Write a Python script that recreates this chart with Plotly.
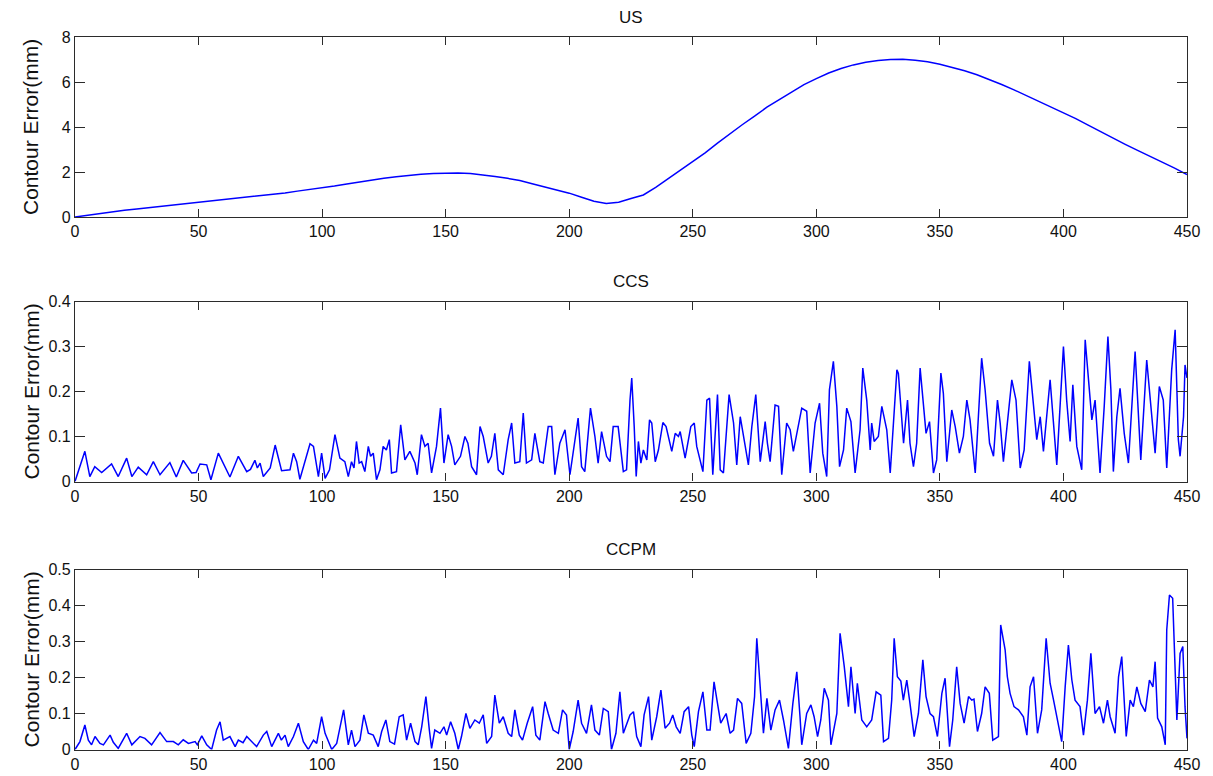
import plotly.graph_objects as go
from plotly.subplots import make_subplots

# ---- US: contour error of the uncoupled system ----
us_x = list(range(0, 451, 5))
us_y = [0.00, 0.08, 0.15, 0.23, 0.30, 0.36, 0.42, 0.48, 0.53, 0.58,
        0.63, 0.70, 0.76, 0.82, 0.88, 0.94, 1.00, 1.07, 1.15, 1.22,
        1.30, 1.38, 1.47, 1.56, 1.64, 1.72, 1.79, 1.85, 1.90, 1.93,
        1.95, 1.95, 1.93, 1.88, 1.80, 1.72, 1.62, 1.48, 1.34, 1.20,
        1.06, 0.88, 0.70, 0.60, 0.66, 0.82, 0.98, 1.32, 1.70, 2.12,
        2.47, 2.85, 3.28, 3.70, 4.10, 4.48, 4.88, 5.22, 5.55, 5.88,
        6.15, 6.40, 6.60, 6.76, 6.88, 6.96, 7.00, 7.01, 6.97, 6.90,
        6.79, 6.66, 6.50, 6.32, 6.12, 5.89, 5.65, 5.40, 5.15, 4.90,
        4.65, 4.37, 4.08, 3.79, 3.50, 3.23, 2.96, 2.70, 2.45, 2.17, 1.89]

# ---- CCS: cross-coupled control ----
ccs_x = [0, 4, 6, 8, 10.8, 14.8, 17.5, 20.9, 23, 25.6, 29, 31.7, 34.4, 38.4, 41, 43.8, 47.2, 49, 50.6, 53.3,
         55, 58, 62.7, 66.1, 69.5, 71, 72.8, 73.8, 74.9, 76.2, 79, 81, 83.6, 87, 88.4, 89.7, 91, 95.1, 96.5, 98.5,
         99.8, 101.2, 103, 105.2, 107.2, 109.2, 110.6, 111.9, 112.9, 113.9, 115, 116, 117.3, 118.7, 119.6, 120.7,
         122, 123.4, 124.7, 126, 127.2, 128.1, 130.1, 131.8, 133.5, 135.5, 137.6, 138.5, 140.2, 141.6, 142.9,
         144.3, 146.3, 147.9, 149.3, 151, 152.4, 153.7, 156, 157.8, 159, 160.5, 162.5, 163.9, 165.2, 167.2,
         168.5, 169.9, 171.3, 173.3, 175.3, 176.7, 178, 180, 181.4, 182.7, 184.8, 186.1, 187, 188.1, 189.5,
         191.5, 192.9, 194.2, 196.2, 198.3, 200.3, 201.6, 203.6, 205, 206.3, 208.6, 210.4, 211.7, 213.1, 215.1,
         216.5, 217.8, 219.8, 221.9, 223.2, 224.6, 225.3, 226.3, 227.1, 228, 229, 230, 231.4, 232.5, 233.4,
         234.8, 236.1, 237.9, 239.2, 241.5, 242.9, 244.2, 244.9, 246.9, 249.2, 250.6, 251.6, 254.1, 255.7,
         256.8, 258.1, 260, 261.1, 262.4, 264.7, 266.5, 267.8, 269.2, 271.2, 272.5, 273.9, 275.5, 277.3,
         279.3, 280.2, 281.3, 283.3, 284.7, 286, 288, 289.4, 290.7, 294.1, 296.1, 297.5, 299.5, 301.3, 302.6,
         304.2, 305.3, 306.9, 308.3, 309.4, 311, 312.3, 314, 315.7, 317.7, 318.8, 320.4, 321.8, 322.4, 323.4,
         325.1, 326.5, 328.5, 329.9, 332.6, 333.2, 334.2, 335.3, 336.9, 337.9, 339.3, 340.6, 342, 343.3,
         344.4, 345.8, 347.4, 348.7, 350.4, 351.4, 352.8, 354.8, 356.2, 357.9, 359.5, 360.9, 362.2, 364.3,
         366.9, 368.3, 370.1, 371.7, 373.3, 374.4, 375.7, 379.1, 380.8, 382.5, 384.1, 386.2, 387.6, 389.2,
         390.6, 391.9, 394.6, 396, 397.3, 400, 401.3, 402.7, 403.8, 405.4, 407.4, 408.8, 410.1, 411.5, 412.8,
         414.8, 416.5, 418, 419.2, 420.2, 421.6, 422.9, 424.6, 426.3, 429, 430.4, 431.3, 433.7, 435.1, 437.1,
         438.8, 440.4, 441.8, 443.8, 445.2, 446.5, 447.2, 448.6, 449.2, 450]
ccs_y = [0, 0.067, 0.011, 0.033, 0.02, 0.039, 0.011, 0.052, 0.011, 0.032, 0.015, 0.044, 0.015, 0.042, 0.01, 0.047, 0.019, 0.02, 0.039, 0.037,
         0.004, 0.063, 0.01, 0.056, 0.022, 0.027, 0.047, 0.03, 0.041, 0.011, 0.03, 0.081, 0.024, 0.026, 0.063, 0.044, 0.005, 0.084, 0.078, 0.011,
         0.063, 0.007, 0.026, 0.104, 0.052, 0.044, 0.011, 0.044, 0.03, 0.089, 0.041, 0.044, 0.022, 0.078, 0.056, 0.063,
         0.004, 0.026, 0.078, 0.07, 0.093, 0.019, 0.022, 0.126, 0.048, 0.067, 0.041, 0.015, 0.104, 0.078, 0.085,
         0.019, 0.078, 0.163, 0.041, 0.104, 0.078, 0.037, 0.056, 0.1, 0.085, 0.033, 0.015, 0.122, 0.1, 0.041,
         0.056, 0.107, 0.026, 0.015, 0.093, 0.13, 0.041, 0.044, 0.152, 0.041, 0.048, 0.107, 0.078, 0.044, 0.041,
         0.122, 0.122, 0.015, 0.085, 0.115, 0.015, 0.067, 0.141, 0.033, 0.022, 0.163, 0.1, 0.041, 0.111, 0.056,
         0.044, 0.122, 0.122, 0.022, 0.026, 0.181, 0.23, 0.122, 0.011, 0.089, 0.041, 0.07, 0.048, 0.137, 0.13,
         0.044, 0.07, 0.131, 0.122, 0.067, 0.107, 0.1, 0.111, 0.052, 0.122, 0.13, 0.078, 0.022, 0.181,
         0.185, 0.015, 0.193, 0.026, 0.019, 0.193, 0.13, 0.037, 0.144, 0.078, 0.037, 0.122, 0.193, 0.044,
         0.133, 0.085, 0.044, 0.17, 0.167, 0.015, 0.13, 0.115, 0.067, 0.163, 0.156, 0.019, 0.13, 0.174, 0.063,
         0.011, 0.204, 0.267, 0.167, 0.033, 0.07, 0.163, 0.133, 0.019, 0.115, 0.252, 0.181, 0.07, 0.13, 0.089,
         0.1, 0.167, 0.115, 0.019, 0.248, 0.24, 0.16, 0.085, 0.181, 0.085, 0.033, 0.085, 0.252, 0.174,
         0.107, 0.133, 0.019, 0.048, 0.241, 0.196, 0.044, 0.159, 0.122, 0.063, 0.1, 0.181, 0.137, 0.019,
         0.274, 0.204, 0.085, 0.056, 0.181, 0.13, 0.044, 0.226, 0.181, 0.03, 0.07, 0.267, 0.189, 0.093,
         0.144, 0.067, 0.226, 0.13, 0.037, 0.3, 0.181, 0.089, 0.215, 0.078, 0.026, 0.315, 0.219, 0.137, 0.181,
         0.019, 0.167, 0.322, 0.204, 0.022, 0.144, 0.207, 0.107, 0.041, 0.289, 0.152, 0.048, 0.27, 0.181, 0.063,
         0.211, 0.181, 0.03, 0.248, 0.337, 0.093, 0.056, 0.144, 0.259, 0.23]

# ---- CCPM: cross-coupled pre-compensation ----
ccpm_x = [0, 2, 4, 5.4, 6.7, 8.1, 10.1, 11.5, 14.2, 15.5, 17.5, 20.9, 23, 26.3, 28.3, 31, 34.4, 37.1, 39.8, 41.8,
          43.8, 45.9, 48.6, 49.5, 51.3, 53.3, 55.3, 57.3, 58.7, 60, 62.7, 64.8, 66.1, 68, 69.5, 71.5, 73.5, 76.2,
          77.6, 79.6, 82.3, 83.5, 85, 86.3, 88.4, 90.4, 92.4, 94.4, 96.5, 97.8, 99.8, 101.2, 102.5, 103.9, 105.9,
          108.7, 110.6, 111.9, 113.3, 115.3, 116.9, 118.7, 120.7, 122.7, 124.1, 125.8, 127.4, 129.3, 131.2,
          132.8, 134.2, 135.8, 137.6, 138.9, 140.3, 142, 143.4, 144.3, 145.6, 147.7, 149.3, 150.4, 152, 153.7,
          155.1, 156.4, 158.2, 159.8, 161.8, 163.6, 165.2, 166.6, 168.6, 169.9, 171.7, 173.3, 175.3, 176.7, 178,
          179.8, 181.1, 183, 185.2, 186.5, 188.1, 190.2, 191.5, 193.5, 195.6, 197.3, 198.9, 200, 201.6, 203.6,
          205, 207, 209, 210.4, 212.2, 213.8, 215.8, 217.1, 218.9, 220.5, 221.9, 223.3, 224.6, 226, 227.3, 229,
          230.3, 232.1, 233.4, 235.4, 237.1, 238.8, 240.6, 241.9, 243.3, 244.9, 246.5, 248.3, 249.6, 250.6,
          252.3, 254.1, 255.7, 257, 258.6, 260, 261.3, 263.5, 265.1, 266.5, 268.1, 269.8, 271.6, 273.5, 275,
          275.9, 277.3, 278.6, 280, 281.6, 283.3, 285.1, 286.7, 288.7, 290.5, 292.1, 293.4, 294.1, 296.1, 297.8,
          299.1, 300.5, 301.8, 303.2, 304.9, 305.9, 308.3, 309.6, 311.3, 313, 314, 315.7, 316.6, 318.4, 320.4,
          322.4, 324.2, 326.1, 327.2, 329.2, 330.5, 331.5, 332.8, 334.2, 335.2, 336.6, 337.9, 339.6, 341.3,
          343.1, 344.4, 346, 347.4, 349, 350.8, 352.1, 353.9, 355.2, 356.8, 358.2, 359.8, 361.6, 362.9, 363.8,
          365.2, 366.9, 368.3, 370, 371.4, 373.7, 374.6, 376.4, 377.3, 378.4, 380, 381.8, 383.8, 385.2, 386.5,
          387.9, 389.5, 391.2, 393, 394.6, 396, 397.3, 399.3, 400.7, 402, 403.4, 404.7, 406.7, 408.1, 409.7,
          411.1, 412.8, 414.6, 416.2, 417.8, 418.9, 420.9, 422.3, 423.6, 425.4, 427, 428.3, 429.7, 431.3, 433.1,
          434.8, 436.2, 437.1, 438.1, 439.8, 441.2, 441.8, 442.9, 444.2, 445.2, 445.9, 447.2, 448.3, 449.2, 450]
ccpm_y = [0, 0.022, 0.068, 0.026, 0.013, 0.036, 0.017, 0.013, 0.04, 0.02, 0.003, 0.045, 0.013, 0.036, 0.031, 0.013, 0.047, 0.022, 0.022, 0.013,
          0.027, 0.017, 0.022, 0.013, 0.038, 0.013, 0.0, 0.054, 0.077, 0.026, 0.036, 0.008, 0.026, 0.019, 0.036, 0.022, 0.008, 0.04,
          0.05, 0.008, 0.045, 0.026, 0.04, 0.008, 0.036, 0.073, 0.022, 0.0, 0.026, 0.017, 0.091, 0.045, 0.022, 0.0, 0.017,
          0.11, 0.013, 0.054, 0.008, 0.026, 0.096, 0.045, 0.04, 0.008, 0.05, 0.082, 0.022, 0.015, 0.091,
          0.096, 0.026, 0.073, 0.022, 0.013, 0.063, 0.147, 0.054, 0.003, 0.054, 0.045, 0.063, 0.04, 0.077, 0.045,
          0.0, 0.036, 0.1, 0.059, 0.082, 0.073, 0.096, 0.017, 0.036, 0.151, 0.073, 0.091, 0.045, 0.036, 0.11,
          0.04, 0.026, 0.073, 0.119, 0.04, 0.026, 0.133, 0.1, 0.054, 0.045, 0.11, 0.096, 0.0, 0.05, 0.137,
          0.073, 0.045, 0.124, 0.054, 0.04, 0.114, 0.105, 0.0, 0.045, 0.16, 0.045, 0.073, 0.096, 0.105, 0.036, 0.008,
          0.096, 0.147, 0.026, 0.091, 0.165, 0.059, 0.073, 0.096, 0.063, 0.045, 0.105, 0.119, 0.04, 0.008,
          0.105, 0.16, 0.054, 0.054, 0.188, 0.128, 0.073, 0.1, 0.045, 0.054, 0.142, 0.128, 0.017, 0.045, 0.147,
          0.309, 0.156, 0.045, 0.142, 0.054, 0.11, 0.137, 0.082, 0.003, 0.128, 0.216, 0.091, 0.013, 0.1, 0.124,
          0.091, 0.036, 0.082, 0.17, 0.137, 0.013, 0.1, 0.323, 0.23, 0.119, 0.23, 0.1, 0.184, 0.082, 0.063,
          0.082, 0.16, 0.151, 0.022, 0.031, 0.137, 0.309, 0.202, 0.19, 0.137, 0.193, 0.128, 0.036, 0.1,
          0.249, 0.147, 0.1, 0.091, 0.036, 0.156, 0.198, 0.008, 0.082, 0.23, 0.128, 0.073, 0.147, 0.137, 0.14,
          0.05, 0.1, 0.174, 0.156, 0.026, 0.036, 0.346, 0.277, 0.202, 0.156, 0.119, 0.11, 0.091, 0.04, 0.174,
          0.202, 0.045, 0.11, 0.309, 0.184, 0.137, 0.091, 0.022, 0.174, 0.29, 0.193, 0.137, 0.119, 0.04, 0.137,
          0.267, 0.1, 0.119, 0.073, 0.137, 0.091, 0.045, 0.202, 0.258, 0.036, 0.137, 0.119, 0.174, 0.128, 0.105,
          0.193, 0.174, 0.244, 0.087, 0.063, 0.013, 0.332, 0.429, 0.42, 0.179, 0.082, 0.267, 0.286, 0.119, 0.031]

panel_titles = ["US", "CCS", "CCPM"]
y_title = "Contour Error(mm)"
x_ticks = list(range(0, 451, 50))
y_ranges = [(0, 8), (0, 0.4), (0, 0.5)]
y_ticks = [[0, 2, 4, 6, 8],
           [0, 0.1, 0.2, 0.3, 0.4],
           [0, 0.1, 0.2, 0.3, 0.4, 0.5]]

W, H = 1213, 776
FONT = "Liberation Sans, Arial, Helvetica, sans-serif"

# pixel boxes of the three axes (left, right, top, bottom)
x_left, x_right = 75, 1187
boxes = [(37, 217), (301.5, 481.5), (569.5, 749.5)]

fig = make_subplots(rows=3, cols=1)

series = [(us_x, us_y), (ccs_x, ccs_y), (ccpm_x, ccpm_y)]
for i, (xs, ys) in enumerate(series, start=1):
    fig.add_trace(go.Scatter(x=xs, y=ys, mode="lines",
                             line=dict(color="#0000ff", width=1.5),
                             showlegend=False, hoverinfo="skip"),
                  row=i, col=1)

axis_common = dict(showline=True, linecolor="#2b2b2b", linewidth=1.3, mirror="ticks",
                   ticks="inside", tickcolor="#2b2b2b", tickwidth=1.3,
                   showgrid=False, zeroline=False, automargin=False,
                   tickfont=dict(family=FONT, size=16, color="#111111"))

annotations = []
for i, (top, bot) in enumerate(boxes):
    n = "" if i == 0 else str(i + 1)
    dom_y = [1 - bot / H, 1 - top / H]
    fig.layout["xaxis" + n].update(domain=[x_left / W, x_right / W], range=[0, 450],
                                   tickvals=x_ticks, ticklen=8, **axis_common)
    fig.layout["yaxis" + n].update(domain=dom_y, range=list(y_ranges[i]),
                                   tickvals=y_ticks[i], ticklen=10, **axis_common)
    annotations.append(dict(text=panel_titles[i], xref="paper", yref="paper",
                            x=(x_left + x_right) / 2 / W, y=1 - (top - 20) / H,
                            xanchor="center", yanchor="middle", showarrow=False,
                            font=dict(family=FONT, size=17, color="#111111")))
    annotations.append(dict(text=y_title, xref="paper", yref="paper",
                            x=31 / W, y=1 - (top + bot) / 2 / H, textangle=-90,
                            xanchor="center", yanchor="middle", showarrow=False,
                            font=dict(family=FONT, size=21, color="#111111")))

fig.update_layout(width=W, height=H, margin=dict(l=0, r=0, t=0, b=0),
                  paper_bgcolor="white", plot_bgcolor="white",
                  annotations=annotations)

# remove the default page margin so the figure fills the window exactly
fig.write_html("out.html",
               post_script="document.body.style.margin='0';"
                           "document.documentElement.style.overflow='hidden';")
